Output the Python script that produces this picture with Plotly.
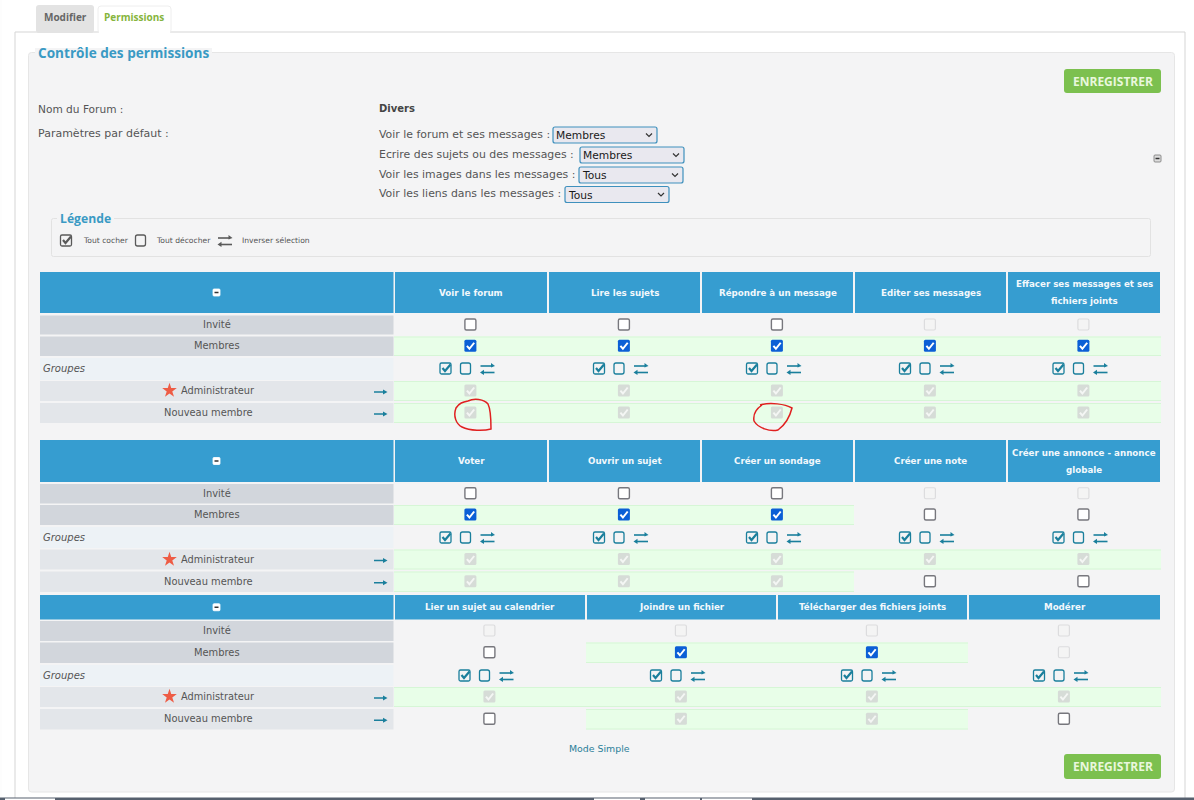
import plotly.graph_objects as go

# Cell states: 0 empty, 1 ticked, 2 greyed empty, 3 greyed ticked
table1_columns = ["Voir le forum", "Lire les sujets", "Répondre à un message", "Editer ses messages",
                  "Effacer ses messages et ses<br>fichiers joints"]
table1_invite = [0, 0, 0, 2, 2]
table1_membres = [1, 1, 1, 1, 1]
table1_admin = [3, 3, 3, 3, 3]
table1_nouveau = [3, 3, 3, 3, 3]

table2_columns = ["Voter", "Ouvrir un sujet", "Créer un sondage", "Créer une note",
                  "Créer une annonce - annonce<br>globale"]
table2_invite = [0, 0, 0, 2, 2]
table2_membres = [1, 1, 1, 0, 0]
table2_admin = [3, 3, 3, 3, 3]
table2_nouveau = [3, 3, 3, 0, 0]

table3_columns = ["Lier un sujet au calendrier", "Joindre un fichier",
                  "Télécharger des fichiers joints", "Modérer"]
table3_invite = [2, 2, 2, 2]
table3_membres = [0, 1, 1, 2]
table3_admin = [3, 3, 3, 3]
table3_nouveau = [0, 3, 3, 0]

row_labels = ["Invité", "Membres", "Groupes", "Administrateur", "Nouveau membre"]
default_labels = ["Voir le forum et ses messages :", "Ecrire des sujets ou des messages :",
                  "Voir les images dans les messages :", "Voir les liens dans les messages :"]
default_values = ["Membres", "Membres", "Tous", "Tous"]
legend_labels = ["Tout cocher", "Tout décocher", "Inverser sélection"]

# Colours
BG = "#f4f4f5"
BLUE = "#369dd0"
TEAL = "#1a7f9c"
TXT = "#555555"
GREEN = "#e8fee8"
GREEN_EDGE = "#d6f6d6"
FONT = "DejaVu Sans"

shapes = []
notes = []


def rect(x0, y0, x1, y1, fill, line=None, r=0, width=1):
    if r:
        path = (f"M{x0+r},{y0} L{x1-r},{y0} Q{x1},{y0} {x1},{y0+r} L{x1},{y1-r} Q{x1},{y1} {x1-r},{y1} "
                f"L{x0+r},{y1} Q{x0},{y1} {x0},{y1-r} L{x0},{y0+r} Q{x0},{y0} {x0+r},{y0} Z")
        s = dict(type="path", path=path)
    else:
        s = dict(type="rect", x0=x0, y0=y0, x1=x1, y1=y1)
    s.update(fillcolor=fill, layer="below", line=dict(color=line or fill, width=width if line else 0))
    shapes.append(s)


def stroke(path, color, width=1.0):
    shapes.append(dict(type="path", path=path, layer="below", line=dict(color=color, width=width)))


def solid(path, color):
    shapes.append(dict(type="path", path=path, layer="below", fillcolor=color, line=dict(color=color, width=0)))


def text(x, y, s, size=10.5, color=TXT, anchor="center", font=FONT, bold=False, italic=False):
    if bold:
        s = f"<b>{s}</b>"
    if italic:
        s = f"<i>{s}</i>"
    # annotations sit about a pixel right of where the page text sits
    if anchor == "left":
        x -= 1
    notes.append(dict(x=x, y=y, text=s, showarrow=False, xanchor=anchor, yanchor="middle",
                      font=dict(size=size, color=color, family=font), align="center", borderpad=0))


def tick(cx, cy, color, width=2.0):
    stroke(f"M{cx-3.5},{cy+0.2} L{cx-1},{cy+3} L{cx+3.8},{cy-3}", color, width)


def checkbox(cx, cy, state):
    if state == 0:
        rect(cx-5.5, cy-5.5, cx+5.5, cy+5.5, "#ffffff", "#77777d", 1.5, 1.4)
    elif state == 1:
        rect(cx-6, cy-6, cx+6, cy+6, "#0b5fd6", None, 1.5)
        tick(cx, cy, "#ffffff")
    elif state == 2:
        rect(cx-5.5, cy-5.5, cx+5.5, cy+5.5, "#f4f4f4", "#dcdcde", 1.5, 1.2)
    else:
        rect(cx-6, cy-6, cx+6, cy+6, "#d6dcd7", None, 1.5)
        tick(cx, cy, "#f4f6f4")


def tool_check(cx, cy, color):
    rect(cx-5.5, cy-5.5, cx+5.5, cy+5.5, "rgba(0,0,0,0)", color, 1.5, 1.3)
    stroke(f"M{cx-3},{cy-0.5} L{cx-0.5},{cy+2.5} L{cx+5},{cy-4}", color, 2.2)


def tool_empty(cx, cy, color):
    rect(cx-5, cy-5.5, cx+5, cy+5.5, "rgba(0,0,0,0)", color, 2, 1.3)


def tool_swap(cx, cy, color):
    stroke(f"M{cx-7},{cy-3} L{cx+5},{cy-3}", color, 1.6)
    solid(f"M{cx+3.5},{cy-6} L{cx+7.5},{cy-3} L{cx+3.5},{cy-1.5} Z", color)
    stroke(f"M{cx-5},{cy+3.5} L{cx+7},{cy+3.5}", color, 1.6)
    solid(f"M{cx-3.5},{cy+0.8} L{cx-7.5},{cy+3.5} L{cx-3.5},{cy+6} Z", color)


def row_arrow(y):
    stroke(f"M374,{y} L385,{y}", TEAL, 1.5)
    solid(f"M383,{y-2.5} L387.5,{y} L383,{y+2.5} Z", TEAL)


def minus_icon(cx, cy, fill, edge, bar):
    rect(cx-3.5, cy-3.5, cx+3.5, cy+3.5, fill, edge, 1, 0.8)
    stroke(f"M{cx-2},{cy} L{cx+2},{cy}", bar, 1.5)


def select_box(x0, y0, label):
    x1 = x0 + 104
    rect(x0, y0, x1, y0 + 16, "#e9e8ef", "#3e90bd", 2, 1.2)
    text(x0 + 2.5, y0 + 8.5, label, 10.7, "#1a1a1a", "left", "DejaVu Sans")
    stroke(f"M{x1-11},{y0+6.5} L{x1-8},{y0+9.5} L{x1-5},{y0+6.5}", "#333333", 1.2)


def button(y0, y1):
    rect(1064, y0, 1161, y1, "#7cc04f", None, 3)
    text(1112.5, (y0 + y1) / 2, "ENREGISTRER", 12, "#e9f7dd", font="Open Sans", bold=True)


# page frame
rect(2, 0, 1194, 797, "#ffffff")
rect(15, 32, 1185, 800, "#ffffff", "#d5d5d5", 0, 1)
rect(28.5, 52.5, 1174.5, 792, BG, "#e6e6e6", 3, 1)
rect(36, 5, 94, 33, "#e3e3e3", None, 3)
rect(98, 6, 171, 33, "#ffffff", "#eeeeee", 3, 1)
rect(99, 31, 170, 34, "#ffffff")
text(65, 16.5, "Modifier", 10, "#666666", font="Open Sans", bold=True)
text(134, 16.5, "Permissions", 10, "#86b53c", font="Open Sans", bold=True)

rect(35, 48, 212, 56, BG)
text(38, 52, "Contrôle des permissions", 13.6, "#3a9ac4", "left", "Open Sans", bold=True)
button(69, 93)
button(754, 779)

text(38, 108.5, "Nom du Forum :", 10.6, TXT, "left")
text(38, 133.5, "Paramètres par défaut :", 11, TXT, "left")
text(379, 108.5, "Divers", 10, "#444444", "left", bold=True)

select_rows = [134, 154, 174, 193.5]
select_starts = [553, 580, 579, 565]
for label, value, yy, xx in zip(default_labels, default_values, select_rows, select_starts):
    text(379, yy, label, 10.9, TXT, "left")
    select_box(xx, yy - 7, value)
minus_icon(1157.5, 158.5, "#dddddd", "#777777", "#333333")

# legend box
rect(51.5, 218.5, 1150.5, 256.5, BG, "#e2e2e2", 2, 1)
rect(57, 214, 114, 222, BG)
text(60, 218.5, "Légende", 12.2, "#3a9ac4", "left", "Open Sans", bold=True)
tool_check(66, 240.5, "#5a5a5a")
tool_empty(140.5, 240.5, "#5a5a5a")
tool_swap(225, 241, "#5a5a5a")
text(83, 240.5, legend_labels[0], 7.6, TXT, "left")
text(156, 240.5, legend_labels[1], 7.6, TXT, "left")
text(242, 240.5, legend_labels[2], 7.6, TXT, "left")


def draw_table(columns, states, edges, head_top, head_bot, rows):
    rect(40, head_top, 393.5, head_bot, BLUE)
    minus_icon(216.5, (head_top + head_bot) / 2, "#ffffff", "#ffffff", "#333333")
    row_fills = ["#d2d6dc", "#d2d6dc", "#edf2f6", "#e3e6ea", "#e3e6ea"]
    for (y0, y1), fill, label in zip(rows, row_fills, row_labels):
        rect(40, y0, 393.5, y1, fill)
        mid = (y0 + y1) / 2 - 0.5
        if label == "Groupes":
            text(43, mid, label, 10, TXT, "left", italic=True)
            continue
        if label == "Administrateur":
            text(181, mid, label, 9.8, TXT, "left")
        elif label == "Nouveau membre":
            text(208.5, mid, label, 9.9)
        else:
            text(216.5, mid, label, 9.9)
        if label in ("Administrateur", "Nouveau membre"):
            row_arrow(mid + 1.5)
    for i, name in enumerate(columns):
        x0, x1 = edges[i]
        cx = (x0 + x1) / 2
        rect(x0, head_top, x1, head_bot, BLUE)
        head_mid = (head_top + head_bot) / 2
        lines = name.split("<br>")
        for j, line in enumerate(lines):
            text(cx, head_mid + (j - (len(lines) - 1) / 2) * 17, line, 8.7, "#f2f8fc", bold=True)
        tool_check(cx - 25.5, rows[2][0] + 10.5, TEAL)
        tool_empty(cx - 5.5, rows[2][0] + 10.5, TEAL)
        tool_swap(cx + 16.5, rows[2][0] + 11, TEAL)
        for (y0, y1), vals in zip([rows[0], rows[1], rows[3], rows[4]], states):
            if vals[i] in (1, 3):
                rect(x0 - 1, y0, x1 + 1, y1, GREEN)
                stroke(f"M{x0-1},{y0+0.5} L{x1+1},{y0+0.5}", GREEN_EDGE)
                stroke(f"M{x0-1},{y1-0.5} L{x1+1},{y1-0.5}", GREEN_EDGE)
    for i in range(len(columns)):
        x0, x1 = edges[i]
        cx = (x0 + x1) / 2
        for (y0, y1), vals in zip([rows[0], rows[1], rows[3], rows[4]], states):
            checkbox(cx - 0.6, (y0 + y1) / 2 - 0.5, vals[i])


five_cols = [(395, 547), (549, 700), (702, 853), (855, 1006), (1008, 1160)]
four_cols = [(395, 585), (587, 776), (778, 967), (969, 1160)]

draw_table(table1_columns, [table1_invite, table1_membres, table1_admin, table1_nouveau], five_cols, 272, 313,
           [(315.5, 334.5), (336.5, 356), (358, 380), (381, 401), (403, 423)])
draw_table(table2_columns, [table2_invite, table2_membres, table2_admin, table2_nouveau], five_cols, 440, 482,
           [(484, 503.5), (505, 525), (527, 548), (549.5, 569.5), (571.5, 592)])
draw_table(table3_columns, [table3_invite, table3_membres, table3_admin, table3_nouveau], four_cols, 595, 619.5,
           [(621, 641), (642.5, 663), (665, 686), (687, 707), (709, 729.5)])

text(599, 748, "Mode Simple", 9.4, "#2a7f99", font="DejaVu Sans")

# hand-drawn red circles from the screenshot
stroke("M468,401 C474,398 484,399 488,404 C491,410 491,422 491,429 C484,431 470,431 462,427 "
       "C456,424 453,416 456,408 C459,403 463,402 468,401", "#e02020", 1.5)
stroke("M760,405 C770,402 785,404 792,408 C790,416 785,425 778,430 C770,432 758,428 754,421 "
       "C753,415 756,409 762,405", "#e02020", 1.5)

# screenshot window edge at the bottom, with the tabs that peek out under it
rect(0, 797.5, 1194, 800, "#56606e")
rect(5, 798.5, 55, 801, "#ffffff")
rect(594, 798.5, 640, 801, "#ffffff")
rect(645, 798.5, 700, 801, "#ffffff")
rect(702, 798.5, 752, 801, "#ffffff")

fig = go.Figure()
# star beside the Administrateur rows
fig.add_trace(go.Scatter(x=[169.5, 169.5, 169.5], y=[390.5, 559.5, 696.5], mode="markers", hoverinfo="skip",
                         marker=dict(symbol="star", size=11, color="#ee5c45", line=dict(width=0))))

fig.update_layout(
    width=1194, height=800, margin=dict(l=0, r=0, t=0, b=0),
    paper_bgcolor="#fdfdfd", plot_bgcolor="#fdfdfd", showlegend=False,
    shapes=shapes, annotations=notes,
    xaxis=dict(range=[0, 1194], visible=False, fixedrange=True),
    yaxis=dict(range=[800, 0], visible=False, fixedrange=True),
)

fig.write_html("out.html", config=dict(displayModeBar=False),
               post_script="document.body.style.margin='0';")
